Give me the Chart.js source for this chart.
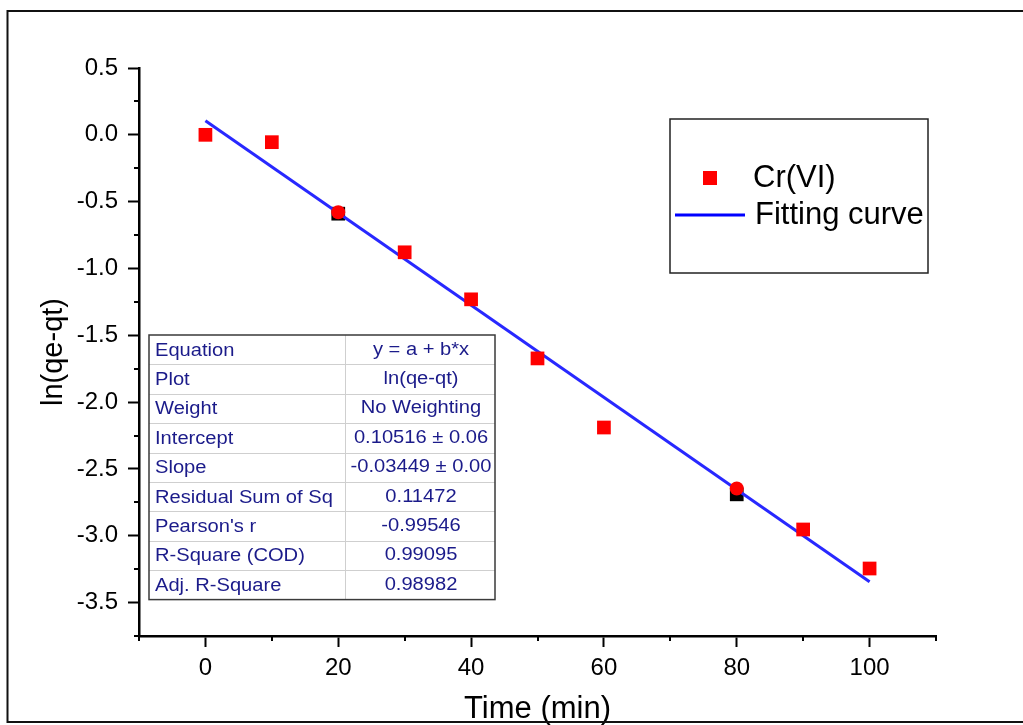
<!DOCTYPE html>
<html>
<head>
<meta charset="utf-8">
<title>ln(qe-qt) vs Time</title>
<script src="https://cdn.jsdelivr.net/npm/chart.js@4/dist/chart.umd.min.js"></script>
<style>
  html, body { margin: 0; padding: 0; background: #fff; }
  #chart { display: block; }
</style>
</head>
<body>
<canvas id="chart" width="1023" height="725"></canvas>
<script>
// pseudo-first-order kinetics, Cr(VI)
var timeMin = [0, 10, 20, 30, 40, 50, 60, 80, 90, 100];
var lnQeQt  = [0.00, -0.055, -0.579, -0.879, -1.231, -1.673, -2.19, -2.646, -2.953, -3.245];
// points masked out of the fit (drawn as black squares under the red dots)
var maskedTime = [20, 80];
var maskedLn   = [-0.59, -2.69];

// linear fit y = a + b*x
var fitIntercept = 0.10516;
var fitSlope = -0.03449;
var fitRange = [0, 100];

var statNames = ['Equation', 'Plot', 'Weight', 'Intercept', 'Slope',
                 'Residual Sum of Sq', "Pearson's r", 'R-Square (COD)', 'Adj. R-Square'];
var statValues = ['y = a + b*x', 'ln(qe-qt)', 'No Weighting', '0.10516 \u00b1 0.06',
                  '-0.03449 \u00b1 0.00', '0.11472', '-0.99546', '0.99095', '0.98982'];

var xTicksMajor = 20;
var yTicksMajor = 0.5;

var FONT = 'Liberation Sans, Arial, Helvetica, sans-serif';
Chart.defaults.font.family = FONT;
Chart.defaults.color = '#000';

function isMajorY(v) { return Math.abs(v / yTicksMajor - Math.round(v / yTicksMajor)) < 1e-6; }
function isMajorX(v) { return Math.abs(v / xTicksMajor - Math.round(v / xTicksMajor)) < 1e-6; }

var squares = timeMin.map(function (t, i) {
  return maskedTime.indexOf(t) >= 0 ? null : { x: t, y: lnQeQt[i] };
}).filter(Boolean);
var dots = timeMin.map(function (t, i) {
  return maskedTime.indexOf(t) >= 0 ? { x: t, y: lnQeQt[i] } : null;
}).filter(Boolean);
var masked = maskedTime.map(function (t, i) { return { x: t, y: maskedLn[i] }; });
var fitLine = fitRange.map(function (t) { return { x: t, y: fitIntercept + fitSlope * t }; });

// short minor tick marks, major ones come from the grid options
var minorTicks = {
  id: 'minorTicks',
  afterDraw: function (chart) {
    var ctx = chart.ctx;
    ctx.save();
    ctx.strokeStyle = '#000';
    ctx.lineWidth = 2;
    var xs = chart.scales.x, ys = chart.scales.y;
    xs.ticks.forEach(function (t) {
      if (isMajorX(t.value)) return;
      var px = Math.round(xs.getPixelForValue(t.value));
      ctx.beginPath(); ctx.moveTo(px, xs.top); ctx.lineTo(px, xs.top + 5); ctx.stroke();
    });
    ys.ticks.forEach(function (t) {
      if (isMajorY(t.value)) return;
      var py = Math.round(ys.getPixelForValue(t.value));
      ctx.beginPath(); ctx.moveTo(ys.right, py); ctx.lineTo(ys.right - 5, py); ctx.stroke();
    });
    ctx.restore();
  }
};

// legend box inside the plot
var boxLegend = {
  id: 'boxLegend',
  afterDraw: function (chart) {
    var ctx = chart.ctx;
    var x0 = 670, y0 = 119, w = 258, h = 154;
    ctx.save();
    ctx.fillStyle = '#fff';
    ctx.fillRect(x0, y0, w, h);
    ctx.strokeStyle = '#222';
    ctx.lineWidth = 1.5;
    ctx.strokeRect(x0, y0, w, h);
    ctx.font = '31px ' + FONT;
    ctx.textBaseline = 'middle';
    ctx.fillStyle = '#000';
    var rows = chart.data.datasets.filter(function (d) { return d.label; });
    rows.forEach(function (d, i) {
      var cy = i === 0 ? 178 : 215;
      if (d.showLine) {
        ctx.strokeStyle = '#0000ff';
        ctx.lineWidth = 3;
        ctx.beginPath(); ctx.moveTo(675, cy); ctx.lineTo(745, cy); ctx.stroke();
        ctx.fillStyle = '#000';
        ctx.fillText(d.label, 755, cy);
      } else {
        ctx.fillStyle = d.backgroundColor;
        ctx.fillRect(703, cy - 7, 14, 14);
        ctx.fillStyle = '#000';
        ctx.fillText(d.label, 753, cy);
      }
    });
    ctx.restore();
  }
};

// fit statistics table (text is drawn slightly stretched, like the Origin export)
var statTable = {
  id: 'statTable',
  afterDraw: function (chart) {
    var ctx = chart.ctx;
    var x0 = 149, y0 = 335, x1 = 495, xm = 345, rh = 29.4;
    var y1 = y0 + rh * statNames.length;
    var stretch = 1.15;
    ctx.save();
    ctx.fillStyle = '#fff';
    ctx.fillRect(x0, y0, x1 - x0, y1 - y0);
    ctx.strokeStyle = '#cfcfcf';
    ctx.lineWidth = 1;
    for (var i = 1; i < statNames.length; i++) {
      var ly = Math.round(y0 + rh * i) + 0.5;
      ctx.beginPath(); ctx.moveTo(x0, ly); ctx.lineTo(x1, ly); ctx.stroke();
    }
    ctx.beginPath(); ctx.moveTo(xm + 0.5, y0); ctx.lineTo(xm + 0.5, y1); ctx.stroke();
    ctx.strokeStyle = '#3a3a3a';
    ctx.lineWidth = 1.5;
    ctx.strokeRect(x0, y0, x1 - x0, y1 - y0);

    ctx.font = '17.5px ' + FONT;
    ctx.fillStyle = '#1b1b8a';
    ctx.textBaseline = 'middle';
    ctx.beginPath(); ctx.rect(x0, y0, x1 - x0 - 1, y1 - y0); ctx.clip();
    statNames.forEach(function (name, i) {
      var cy = y0 + rh * i + rh / 2 + 1;
      ctx.save();
      ctx.translate(155, cy);
      ctx.scale(stretch, 1);
      ctx.textAlign = 'left';
      ctx.fillText(name, 0, 0);
      ctx.restore();
      ctx.save();
      ctx.translate(421, cy - 1);
      ctx.scale(stretch, 1);
      ctx.textAlign = 'center';
      ctx.fillText(statValues[i], 0, 0);
      ctx.restore();
    });
    ctx.restore();
  }
};

// outer frame of the figure
var frame = {
  id: 'frame',
  afterDraw: function (chart) {
    var ctx = chart.ctx;
    ctx.save();
    ctx.strokeStyle = '#111';
    ctx.lineWidth = 2;
    ctx.strokeRect(7.5, 11, 1030, 711);
    ctx.restore();
  }
};

new Chart(document.getElementById('chart'), {
  type: 'scatter',
  data: {
    datasets: [
      {
        label: 'Cr(VI)',
        data: squares,
        pointStyle: 'rect',
        pointRadius: 9.7,
        pointHoverRadius: 9.7,
        borderWidth: 0,
        backgroundColor: '#ff0000',
        order: 1
      },
      {
        label: 'Fitting curve',
        data: fitLine,
        showLine: true,
        borderColor: 'rgb(40,40,255)',
        borderWidth: 3,
        pointRadius: 0,
        order: 2
      },
      {
        label: '',
        data: dots,
        pointStyle: 'circle',
        pointRadius: 7,
        borderWidth: 0,
        backgroundColor: '#ff0000',
        order: 0
      },
      {
        label: '',
        data: masked,
        pointStyle: 'rect',
        pointRadius: 9.7,
        borderWidth: 0,
        backgroundColor: '#000',
        order: 3
      }
    ]
  },
  options: {
    responsive: false,
    animation: false,
    layout: { padding: { left: 0, right: 87, top: 68, bottom: 0 } },
    plugins: {
      legend: { display: false },
      tooltip: { enabled: false }
    },
    scales: {
      x: {
        type: 'linear',
        min: -10,
        max: 110,
        afterFit: function (s) { s.height = 89; },
        border: { display: true, color: '#000', width: 2.5 },
        grid: {
          drawOnChartArea: false,
          drawTicks: true,
          tickLength: 11,
          tickWidth: 2,
          tickColor: function (c) { return c.tick && isMajorX(c.tick.value) ? '#000' : 'rgba(0,0,0,0)'; }
        },
        ticks: {
          stepSize: 10,
          autoSkip: false,
          maxRotation: 0,
          padding: 7,
          font: { size: 24 },
          callback: function (v) { return isMajorX(v) ? String(v) : ''; }
        },
        title: {
          display: true,
          text: 'Time (min)',
          font: { size: 31, lineHeight: 1 },
          padding: { top: 0, bottom: 0 }
        }
      },
      y: {
        type: 'linear',
        min: -3.75,
        max: 0.5,
        afterFit: function (s) { s.width = 139; },
        border: { display: true, color: '#000', width: 2.5 },
        grid: {
          drawOnChartArea: false,
          drawTicks: true,
          tickLength: 11,
          tickWidth: 2,
          tickColor: function (c) { return c.tick && isMajorY(c.tick.value) ? '#000' : 'rgba(0,0,0,0)'; }
        },
        ticks: {
          stepSize: 0.25,
          autoSkip: false,
          padding: 10,
          font: { size: 24 },
          callback: function (v) { return isMajorY(v) ? Number(v).toFixed(1) : ''; }
        },
        title: {
          display: true,
          text: 'ln(qe-qt)',
          font: { size: 29, lineHeight: 1 },
          padding: { top: 39, bottom: 0 }
        }
      }
    }
  },
  plugins: [minorTicks, statTable, boxLegend, frame]
});
</script>
</body>
</html>
